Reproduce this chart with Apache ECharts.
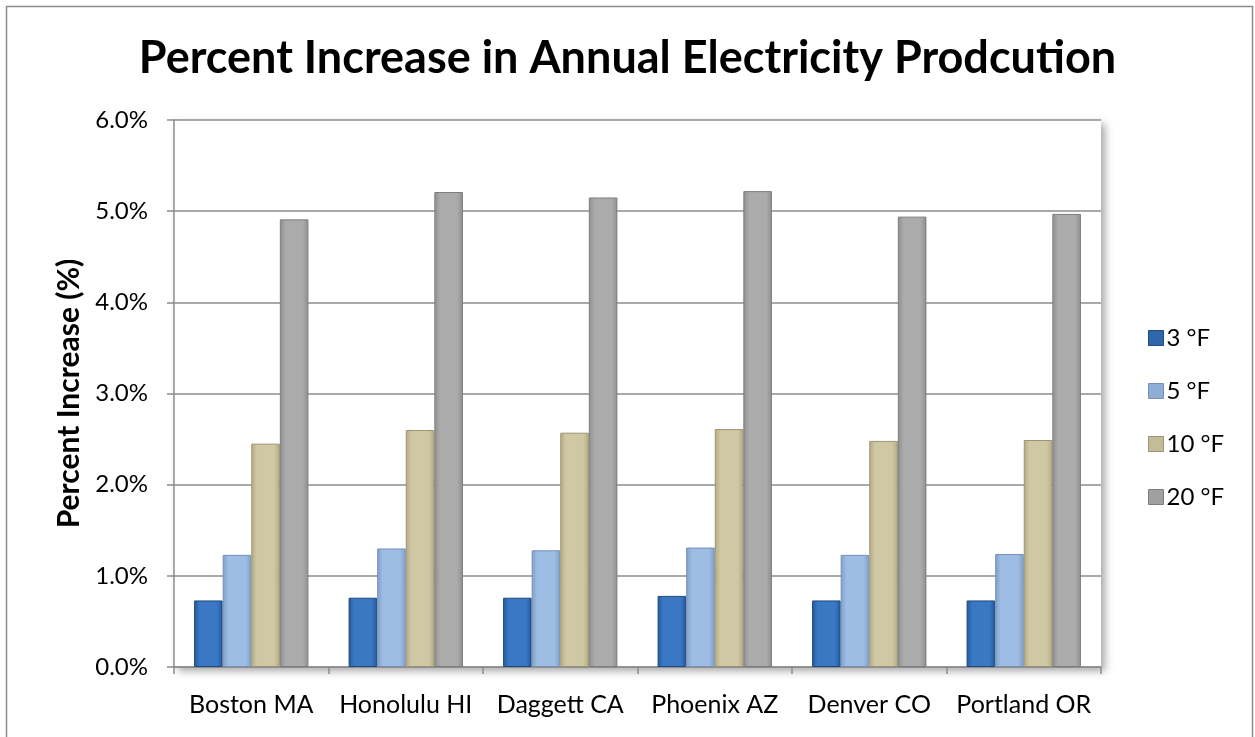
<!DOCTYPE html>
<html>
<head>
<meta charset="utf-8">
<script src="https://cdn.jsdelivr.net/npm/echarts@6/dist/echarts.min.js"></script>
<style>
  html, body { margin: 0; padding: 0; background: #fff; }
  #chart { width: 1255px; height: 737px; }
</style>
</head>
<body>
<div id="chart"></div>
<script>
const cities = ['Boston MA', 'Honolulu HI', 'Daggett CA', 'Phoenix AZ', 'Denver CO', 'Portland OR'];
const seriesNames = ['3 °F', '5 °F', '10 °F', '20 °F'];
const inc3 = [0.73, 0.76, 0.76, 0.78, 0.73, 0.73];
const inc5 = [1.23, 1.30, 1.28, 1.31, 1.23, 1.24];
const inc10 = [2.45, 2.60, 2.57, 2.61, 2.48, 2.49];
const inc20 = [4.91, 5.21, 5.15, 5.22, 4.94, 4.97];

const font = 'Lato, "Open Sans", sans-serif';

// dark edges, light middle, to get a bit of the bevel look
function bevel(edge, mid) {
    return new echarts.graphic.LinearGradient(0, 0, 1, 0, [
        { offset: 0, color: edge },
        { offset: 0.2, color: mid },
        { offset: 0.8, color: mid },
        { offset: 1, color: edge }
    ]);
}
const fills = [
    bevel('#24589a', '#3a78c4'),
    bevel('#7f9fc8', '#9dbde4'),
    bevel('#b3ab84', '#d0c8a2'),
    bevel('#8e8e8e', '#ababab')
];
const strokes = ['#1e4a80', '#7591b8', '#9c9574', '#7d7d7d'];
const legendColors = ['#2f67ad', '#8eaed6', '#c4bc96', '#a0a0a0'];
const values = [inc3, inc5, inc10, inc20];

const chart = echarts.init(document.getElementById('chart'));
chart.setOption({
    backgroundColor: '#fff',
    animation: false,
    graphic: [
        {
            type: 'rect',
            shape: { x: 6.5, y: 6.5, width: 1246, height: 800 },
            style: { fill: 'none', stroke: '#8c8c8c', lineWidth: 1.5 },
            silent: true
        }
    ],
    title: {
        text: 'Percent Increase in Annual Electricity Prodcution',
        left: 'center',
        top: 31,
        textStyle: {
            fontFamily: font,
            fontSize: 45,
            fontWeight: 'bold',
            color: '#000'
        }
    },
    legend: {
        orient: 'vertical',
        left: 1143,
        top: 321,
        itemWidth: 15,
        itemHeight: 15,
        itemGap: 29,
        icon: 'rect',
        textStyle: { fontFamily: font, fontSize: 24, color: '#000', padding: [0, 0, 0, -2] },
        data: seriesNames.map((n, i) => ({ name: n, itemStyle: { color: legendColors[i], borderColor: strokes[i], borderWidth: 1 } }))
    },
    grid: {
        left: 174,
        right: 154,
        top: 120,
        bottom: 70,
        show: true,
        backgroundColor: '#fff',
        borderWidth: 0,
        shadowColor: 'rgba(0,0,0,0.35)',
        shadowBlur: 8,
        shadowOffsetX: 4,
        shadowOffsetY: 4
    },
    xAxis: {
        type: 'category',
        data: cities,
        axisLine: { lineStyle: { color: '#8c8c8c', width: 1.5 } },
        axisTick: { show: true, length: 7, lineStyle: { color: '#8c8c8c', width: 1.5 } },
        axisLabel: { fontFamily: font, fontSize: 25, color: '#000', margin: 25, interval: 0 }
    },
    yAxis: {
        type: 'value',
        min: 0,
        max: 6,
        interval: 1,
        name: 'Percent Increase (%)',
        nameLocation: 'middle',
        nameGap: 56,
        nameTextStyle: { fontFamily: font, fontSize: 30, fontWeight: 'bold', color: '#000' },
        axisLine: { show: true, lineStyle: { color: '#8c8c8c', width: 1.5 } },
        axisTick: { show: true, length: 7, lineStyle: { color: '#8c8c8c', width: 1.5 } },
        axisLabel: {
            fontFamily: font,
            fontSize: 24,
            color: '#000',
            margin: 26,
            formatter: v => v.toFixed(1) + '%'
        },
        splitLine: { lineStyle: { color: '#8c8c8c', width: 1.5 } }
    },
    series: seriesNames.map((n, i) => ({
        name: n,
        type: 'bar',
        data: values[i],
        barGap: '0%',
        barCategoryGap: '26%',
        itemStyle: { color: fills[i], borderColor: strokes[i], borderWidth: 1 }
    }))
});
</script>
</body>
</html>
